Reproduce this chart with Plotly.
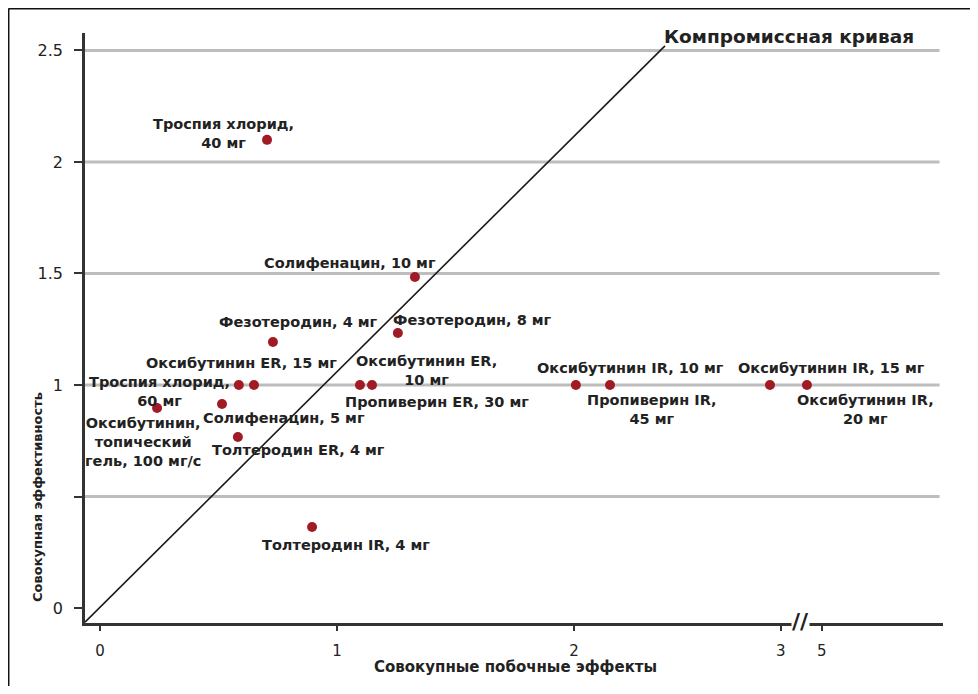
import plotly.graph_objects as go

# ---- data (x in axis display units; the x axis has a break between 3 and 5) ----
drug_labels = [
    "Троспия хлорид,<br>40 мг",
    "Солифенацин, 10 мг",
    "Фезотеродин, 4 мг",
    "Фезотеродин, 8 мг",
    "Оксибутинин ER, 15 мг",
    "Троспия хлорид,<br>60 мг",
    "Оксибутинин,<br>топический<br>гель, 100 мг/с",
    "Солифенацин, 5 мг",
    "Толтеродин ER, 4 мг",
    "Оксибутинин ER,<br>10 мг",
    "Пропиверин ER, 30 мг",
    "Оксибутинин IR, 10 мг",
    "Пропиверин IR,<br>45 мг",
    "Оксибутинин IR, 15 мг",
    "Оксибутинин IR,<br>20 мг",
    "Толтеродин IR, 4 мг",
]
side_effects = [0.705, 1.329, 0.730, 1.257, 0.650, 0.586, 0.241, 0.515, 0.582,
                1.148, 1.097, 2.008, 2.152, 2.827, 2.983, 0.895]
efficacy = [2.099, 1.484, 1.193, 1.233, 1.0, 1.0, 0.897, 0.915, 0.767,
            1.0, 1.0, 1.0, 1.0, 1.0, 1.0, 0.363]

curve_x = [-0.063, 2.384]
curve_y = [-0.063, 2.52]
curve_label = "Компромиссная кривая"

x_tick_vals = [0, 1, 2, 2.873, 3.046]
x_tick_text = ["0", "1", "2", "3", "5"]
x_break_at = 2.955
y_tick_vals = [0, 0.5, 1, 1.5, 2, 2.5]
y_tick_text = ["0", "", "1", "1.5", "2", "2.5"]
grid_vals = [0.5, 1, 1.5, 2, 2.5]

x_title = "Совокупные побочные эффекты"
y_title = "Совокупная эффективность"

# ---- label placement (pixel offsets from each point) ----
label_offsets = [
    (-44, 6), (-65, 14), (26, 20), (75, 13), (-12, 22), (-79, -7), (-14, -34),
    (62, -14), (61, -13), (54, 14), (77, -17), (55, 17), (42, -25), (62, 17),
    (59, -25), (34, -18),
]

FONT = "DejaVu Sans, sans-serif"
TXT = "#222222"

fig = go.Figure()

fig.add_trace(go.Scatter(
    x=curve_x, y=curve_y, mode="lines",
    line=dict(color="#1a1a1a", width=1.6), hoverinfo="skip", showlegend=False))

fig.add_trace(go.Scatter(
    x=side_effects, y=efficacy, mode="markers",
    marker=dict(color="#a01b24", size=10, line=dict(width=0)),
    text=drug_labels, hoverinfo="text", showlegend=False))

# grid lines
for g in grid_vals:
    fig.add_shape(type="line", xref="paper", yref="y", x0=0, x1=0.996, y0=g, y1=g,
                  line=dict(color="#bdbdbd", width=3), layer="below")

# point labels
for xv, yv, lab, (dx, dy) in zip(side_effects, efficacy, drug_labels, label_offsets):
    fig.add_annotation(x=xv, y=yv, text=lab, showarrow=False, xshift=dx, yshift=dy,
                       align="center", font=dict(family=FONT, size=14.5, color=TXT, weight="bold"))

# curve label
fig.add_annotation(x=curve_x[-1], y=curve_y[-1], text=curve_label, showarrow=False,
                   xanchor="left", yanchor="middle", xshift=-3, yshift=9,
                   font=dict(family=FONT, size=18.5, color=TXT, weight="bold"))

# axis break marker
fig.add_annotation(x=x_break_at, y=0, xref="x", yref="paper", text="//", showarrow=False,
                   yanchor="middle", yshift=2, font=dict(family=FONT, size=22, color=TXT, weight="bold"),
                   bgcolor="white", borderpad=0)

# axis titles
fig.add_annotation(x=-0.0548, y=0.2136, xref="paper", yref="paper", text=y_title,
                   showarrow=False, textangle=-90, xanchor="center", yanchor="middle",
                   font=dict(family=FONT, size=13, color=TXT, weight="bold"))
fig.add_annotation(x=0.502, y=-0.075, xref="paper", yref="paper", text=x_title,
                   showarrow=False, xanchor="center", yanchor="middle",
                   font=dict(family=FONT, size=15, color=TXT, weight="bold"))

# page frame (top and left edges)
fig.add_shape(type="line", xref="paper", yref="paper", x0=-0.0892, x1=1.05, y0=1.0415, y1=1.0415,
              line=dict(color="#111111", width=2))
fig.add_shape(type="line", xref="paper", yref="paper", x0=-0.0892, x1=-0.0892, y0=1.0415, y1=-0.13,
              line=dict(color="#111111", width=2))

fig.update_layout(
    width=962, height=678,
    margin=dict(l=77, r=27, t=25, b=63),
    paper_bgcolor="white", plot_bgcolor="white",
    showlegend=False,
    xaxis=dict(range=[-0.063, 3.557], tickvals=x_tick_vals, ticktext=x_tick_text,
               showgrid=False, zeroline=False, showline=True, linecolor="#333333", linewidth=2.5,
               ticks="outside", ticklen=5, tickwidth=1.5, tickcolor="#333333",
               ticklabelstandoff=7,
               tickfont=dict(family=FONT, size=15, color=TXT)),
    yaxis=dict(range=[-0.067, 2.578], tickvals=y_tick_vals, ticktext=y_tick_text,
               showgrid=False, zeroline=False, showline=True, linecolor="#333333", linewidth=2.5,
               ticks="outside", ticklen=8, tickwidth=1.5, tickcolor="#333333",
               ticklabelstandoff=8,
               tickfont=dict(family=FONT, size=16, color=TXT)),
)

fig.write_html("out.html")
